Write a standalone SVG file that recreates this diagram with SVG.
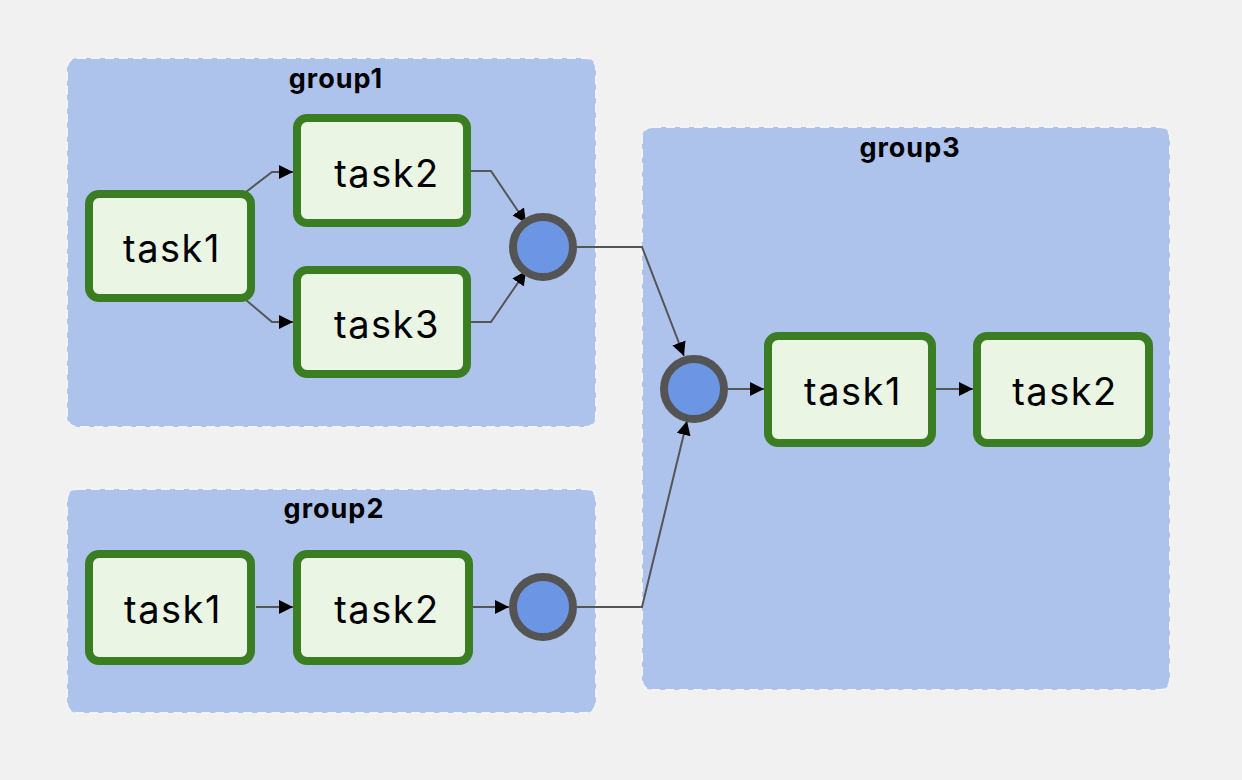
<svg xmlns="http://www.w3.org/2000/svg" width="1242" height="780" viewBox="0 0 1242 780">
<defs>
<style>
.grp{fill:#aec3eb;stroke:#f4f4f4;stroke-width:2;stroke-dasharray:9 5}
.glabel{font-family:Inter,"Liberation Sans",sans-serif;font-weight:bold;font-size:27px;letter-spacing:1px;fill:#000;text-anchor:middle}
.task rect{fill:#eaf5e4;stroke:#3a7d22;stroke-width:8}
.task text{font-family:Inter,"Liberation Sans",sans-serif;font-size:38px;letter-spacing:1.5px;fill:#000;text-anchor:middle}
.join circle{fill:#6c96e4;stroke:#545454;stroke-width:8}
.edge{fill:none;stroke:#555;stroke-width:2;marker-end:url(#arr)}
</style>
<marker id="arr" viewBox="0 0 10 10" refX="10" refY="5" markerWidth="14" markerHeight="14" markerUnits="userSpaceOnUse" orient="auto">
<path d="M0,0 L10,5 L0,10 z" fill="#000"/>
</marker>
</defs>
<rect width="1242" height="780" fill="#f1f1f1"/>
<g id="group1"><rect class="grp" x="67" y="58" width="529" height="369" rx="10"/><text class="glabel" x="336" y="88">group1</text></g>
<g id="group2"><rect class="grp" x="67" y="489" width="529" height="224" rx="10"/><text class="glabel" x="334" y="518">group2</text></g>
<g id="group3"><rect class="grp" x="642" y="127" width="528" height="563" rx="10"/><text class="glabel" x="910" y="157">group3</text></g>
<g id="connectors">
<path class="edge" d="M246,192 L272,172 L293,172"/>
<path class="edge" d="M246,300 L272,322 L293,322"/>
<path class="edge" d="M471,171 L491,171 L526,223"/>
<path class="edge" d="M471,322 L491,322 L526,271"/>
<path class="edge" d="M577,247 L642,247 L684,356"/>
<path class="edge" d="M577,607 L642,607 L687,421"/>
<path class="edge" d="M728,389 L764,389"/>
<path class="edge" d="M936,389 L973,389"/>
<path class="edge" d="M256,607 L293,607"/>
<path class="edge" d="M471,607 L509,607"/>
</g>
<g id="g1_task1" class="task"><rect x="89" y="194" width="162" height="104" rx="10"/><text x="172" y="262">task1</text></g>
<g id="g1_task2" class="task"><rect x="297" y="118" width="170" height="105" rx="10"/><text x="387" y="187">task2</text></g>
<g id="g1_task3" class="task"><rect x="297" y="270" width="170" height="104" rx="10"/><text x="387" y="338">task3</text></g>
<g id="g1_join" class="join"><circle cx="543" cy="247" r="30"/></g>
<g id="g2_task1" class="task"><rect x="89" y="554" width="162" height="107" rx="10"/><text x="173" y="623">task1</text></g>
<g id="g2_task2" class="task"><rect x="297" y="554" width="172" height="107" rx="10"/><text x="387" y="623">task2</text></g>
<g id="g2_join" class="join"><circle cx="543" cy="607" r="30"/></g>
<g id="g3_join" class="join"><circle cx="694" cy="389" r="30"/></g>
<g id="g3_task1" class="task"><rect x="768" y="336" width="164" height="107" rx="10"/><text x="853" y="405">task1</text></g>
<g id="g3_task2" class="task"><rect x="977" y="336" width="172" height="107" rx="10"/><text x="1065" y="405">task2</text></g>
</svg>
